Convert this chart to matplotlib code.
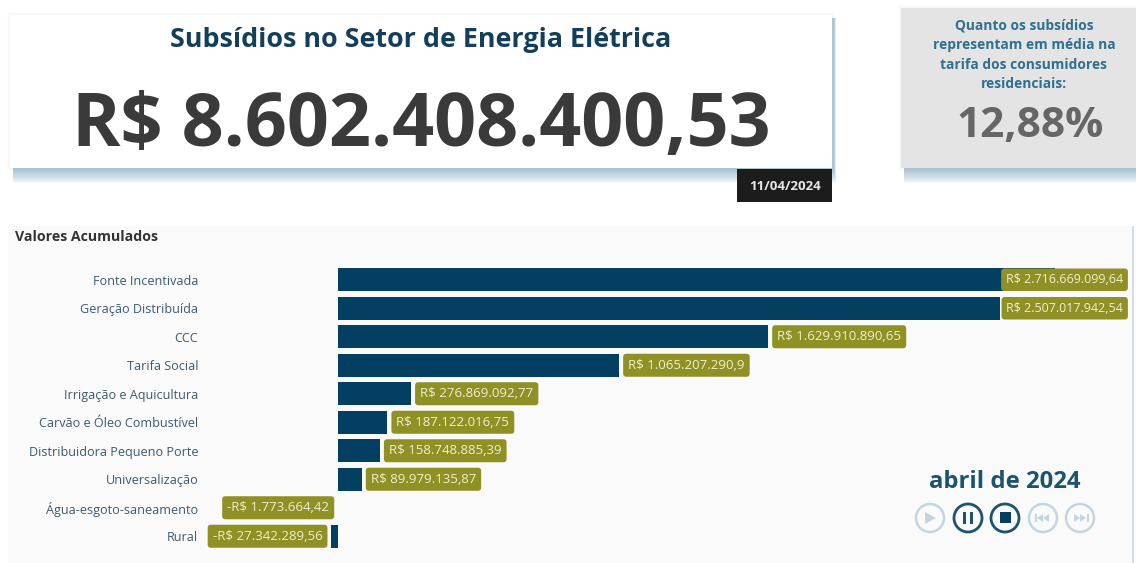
import matplotlib
matplotlib.use("Agg")
import matplotlib.pyplot as plt
from matplotlib.patches import Rectangle, Circle, Polygon

W, H = 1136, 563
FONT = "Open Sans"

categories = ["Fonte Incentivada", "Geração Distribuída", "CCC", "Tarifa Social",
              "Irrigação e Aquicultura", "Carvão e Óleo Combustível",
              "Distribuidora Pequeno Porte", "Universalização",
              "Água-esgoto-saneamento", "Rural"]
values = [2716669099.64, 2507017942.54, 1629910890.65, 1065207290.90,
          276869092.77, 187122016.75, 158748885.39, 89979135.87,
          -1773664.42, -27342289.56]
value_labels = ["R$ 2.716.669.099,64", "R$ 2.507.017.942,54", "R$ 1.629.910.890,65",
                "R$ 1.065.207.290,9", "R$ 276.869.092,77", "R$ 187.122.016,75",
                "R$ 158.748.885,39", "R$ 89.979.135,87",
                "-R$ 1.773.664,42", "-R$ 27.342.289,56"]

NAVY = "#023f60"
OLIVE = "#8f9124"
TITLE = "#123f5c"

plt.rcParams["font.family"] = FONT
fig = plt.figure(figsize=(W / 100, H / 100), dpi=100, facecolor="white")

# background layer in pixel coordinates
bg = fig.add_axes([0, 0, 1, 1])
bg.set_xlim(0, W)
bg.set_ylim(H, 0)
bg.axis("off")


def card(x0, y0, x1, y1, color, z=2):
    # faint glow round the card, then a soft shadow under it
    for i in range(3):
        bg.add_patch(Rectangle((x0 - 1 - i, y0 - 1 - i), x1 - x0 + 2 + 2 * i, y1 - y0 + 2 + 2 * i,
                               facecolor="#8a8a8a", edgecolor="none", alpha=0.025, zorder=z - 1))
    for i in range(12):
        bg.add_patch(Rectangle((x0 + 3, y0 + 3), x1 - x0 - 1 + i * 0.2, y1 - y0 + i * 1.1,
                               facecolor="#5f93b0", edgecolor="none", alpha=0.05, zorder=z - 1))
    bg.add_patch(Rectangle((x0, y0), x1 - x0, y1 - y0, facecolor=color,
                           edgecolor="none", zorder=z))


card(10, 15, 832, 168, "white")
card(901, 8, 1140, 168, "#e4e4e4")

bg.text(421, 40, "Subsídios no Setor de Energia Elétrica", color=TITLE, fontsize=19.4,
        fontweight="bold", ha="center", va="center", zorder=5)
bg.text(421, 127, "R$ 8.602.408.400,53", color="#3a3a3a", fontsize=53,
        fontweight="bold", ha="center", va="center", zorder=5)

bg.add_patch(Rectangle((737, 169), 95, 33, facecolor="#1c1c1c", edgecolor="none", zorder=5))
bg.text(785, 186, "11/04/2024", color="#e8e8e8", fontsize=9.5, fontweight="bold",
        ha="center", va="center", zorder=6)

bg.text(1024, 55, "Quanto os subsídios\nrepresentam em média na\ntarifa dos consumidores\nresidenciais:",
        color="#2f6f8f", fontsize=9.9, fontweight="bold", ha="center", va="center",
        linespacing=1.5, zorder=5)
bg.text(1030, 127, "12,88%", color="#666666", fontsize=30.5, fontweight="bold",
        ha="center", va="center", zorder=5)

# chart panel
bg.add_patch(Rectangle((8, 226), 1124, 337, facecolor="#fafafa", edgecolor="none", zorder=1))
bg.add_patch(Rectangle((1132, 226), 2, 337, facecolor="#d3dfe6", edgecolor="none", zorder=1))
bg.text(15, 237, "Valores Acumulados", color="#333333", fontsize=10.2, fontweight="bold",
        ha="left", va="center", zorder=5)

# bars, with the axes placed so that zero falls at x=338 px
PX_PER_UNIT = 717 / 2716669099.64
ax_left, ax_right, ax_top, ax_bottom = 208, 1128, 265.5, 550.5
ax = fig.add_axes([ax_left / W, 1 - ax_bottom / H, (ax_right - ax_left) / W, (ax_bottom - ax_top) / H])
ax.patch.set_alpha(0)
ax.set_xlim((ax_left - 338) / PX_PER_UNIT, (ax_right - 338) / PX_PER_UNIT)
ypos = list(range(len(categories)))
ax.barh(ypos, values, height=0.79, color=NAVY, zorder=2)
ax.set_ylim(len(categories) - 0.5, -0.5)
ax.set_yticks(ypos, categories)
ax.xaxis.set_visible(False)
ax.tick_params(axis="y", length=0, pad=7, labelsize=9.1, labelcolor="#3d5a70")
for s in ax.spines.values():
    s.set_visible(False)

box = dict(boxstyle="round,pad=0.38,rounding_size=0.25", facecolor=OLIVE, edgecolor="none")
for i, (v, lab) in enumerate(zip(values, value_labels)):
    if v < 0:
        xy, off, ha = (v, i), (-6, 0), "right"
    elif 338 + v * PX_PER_UNIT > 990:
        # long bars: the label is pushed back against the right edge
        xy, off, ha = (ax.get_xlim()[1], i), (-3.5, 0), "right"
    else:
        xy, off, ha = (v, i), (6.5, 0), "left"
    # the two pushed-back labels are a little tighter in the original
    fs = 9 if ha == "right" and v > 0 else 9.5
    ax.annotate(lab, xy=xy, xytext=off, textcoords="offset points", ha=ha, va="center",
                color="#efeed2", fontsize=fs, bbox=box, zorder=4)

# play axis
bg.text(1005, 482, "abril de 2024", color="#1c5470", fontsize=17.2, fontweight="bold",
        ha="center", va="center", zorder=5)
LIGHT, DARK = "#c3d6df", "#1c5470"
cy = 518
for cx, col, lw in [(930, LIGHT, 1.8), (968, DARK, 2), (1005, DARK, 2), (1043, LIGHT, 1.8), (1080, LIGHT, 1.8)]:
    bg.add_patch(Circle((cx, cy), 14, facecolor="none", edgecolor=col, linewidth=lw, zorder=5))
bg.add_patch(Polygon([(925, cy - 6), (925, cy + 6), (936, cy)], facecolor=LIGHT, zorder=5))
for dx in (962.5, 969.5):
    bg.add_patch(Rectangle((dx, cy - 6), 3.5, 12, facecolor=DARK, zorder=5))
bg.add_patch(Rectangle((999.5, cy - 6), 11, 11, facecolor=NAVY, zorder=5))
bg.add_patch(Rectangle((1035, cy - 4), 1.5, 8, facecolor=LIGHT, zorder=5))
for x0 in (1037, 1043):
    bg.add_patch(Polygon([(x0 + 6, cy - 4), (x0 + 6, cy + 4), (x0, cy)], facecolor=LIGHT, zorder=5))
bg.add_patch(Rectangle((1087, cy - 4), 1.5, 8, facecolor=LIGHT, zorder=5))
for x0 in (1074, 1080):
    bg.add_patch(Polygon([(x0, cy - 4), (x0, cy + 4), (x0 + 6, cy)], facecolor=LIGHT, zorder=5))

fig.savefig("out.png", dpi=100)
